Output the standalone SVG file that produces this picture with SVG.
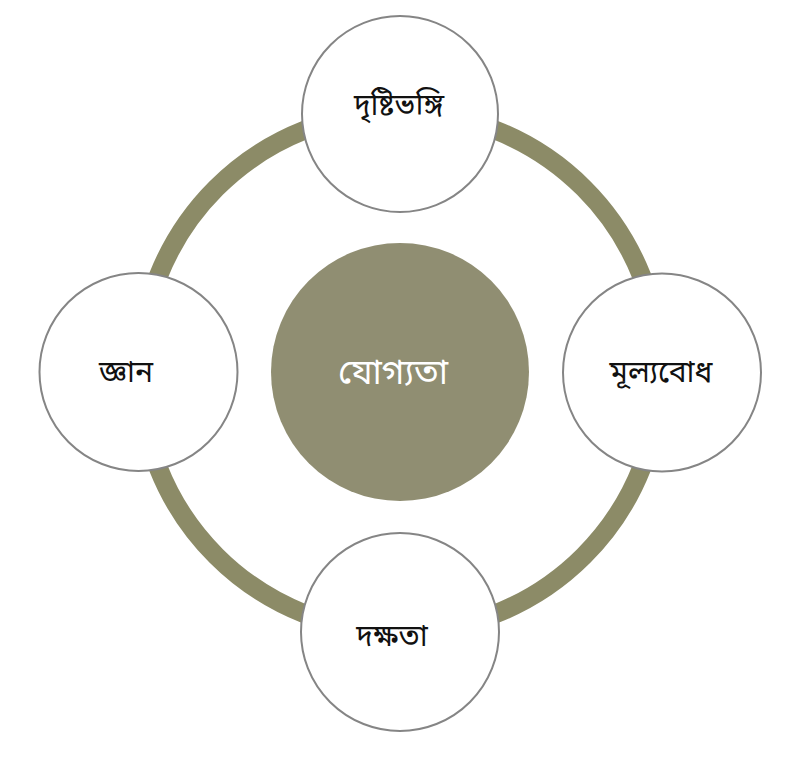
<svg xmlns="http://www.w3.org/2000/svg" width="800" height="771" viewBox="0 0 800 771">
<style>
.sat{fill:#ffffff;stroke:#858585;stroke-width:2}
.lbl{font-family:"Noto Sans Bengali","Noto Serif Bengali","Lohit Bengali","Noto Sans","DejaVu Sans",sans-serif;font-size:30px;fill:#111111;text-anchor:middle}
.ctr{font-family:"Noto Sans Bengali","Noto Serif Bengali","Lohit Bengali","Noto Sans","DejaVu Sans",sans-serif;font-size:35px;fill:#ffffff;text-anchor:middle}
</style>
<rect width="800" height="771" fill="#ffffff"/>
<g id="connectors">
<circle cx="400" cy="372" r="260" fill="none" stroke="#8c8b67" stroke-width="19"/>
</g>
<g id="center">
<circle cx="400" cy="372" r="129" fill="#908e72"/>
<text class="ctr" x="393" y="384">যোগ্যতা</text>
</g>
<g id="top">
<circle class="sat" cx="400" cy="114" r="98"/>
<text class="lbl" x="399" y="115">দৃষ্টিভঙ্গি</text>
</g>
<g id="left">
<circle class="sat" cx="138.5" cy="372" r="99"/>
<text class="lbl" x="126" y="382">জ্ঞান</text>
</g>
<g id="right">
<circle class="sat" cx="662" cy="372.5" r="99"/>
<text class="lbl" x="661" y="382">মূল্যবোধ</text>
</g>
<g id="bottom">
<circle class="sat" cx="400" cy="632" r="99"/>
<text class="lbl" x="392" y="646">দক্ষতা</text>
</g>
</svg>
